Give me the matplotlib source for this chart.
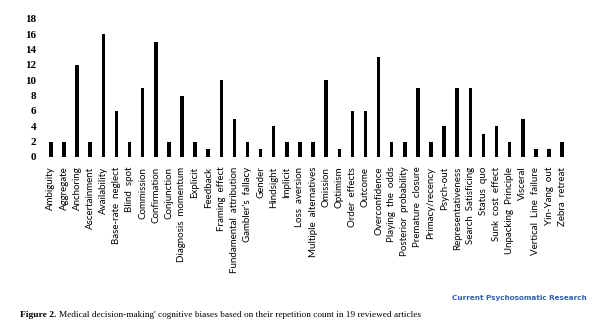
import matplotlib
matplotlib.use("Agg")
import matplotlib.pyplot as plt

# Cognitive biases and how many of the 19 reviewed articles mention each
biases = [
    "Ambiguity", "Aggregate", "Anchoring", "Ascertainment", "Availability",
    "Base-rate  neglect", "Blind  spot", "Commission", "Confirmation", "Conjunction",
    "Diagnosis  momentum", "Explicit", "Feedback", "Framing  effect",
    "Fundamental  attribution", "Gambler\u2019s  fallacy", "Gender", "Hindsight",
    "Implicit", "Loss  aversion", "Multiple  alternatives", "Omission", "Optimism",
    "Order  effects", "Outcome", "Overconfidence", "Playing  the  odds",
    "Posterior  probability", "Premature  closure", "Primacy/recency", "Psych-out",
    "Representativeness", "Search  Satisficing", "Status  quo", "Sunk  cost  effect",
    "Unpacking  Principle", "Visceral", "Vertical  Line  failure", "Yin-Yang  out",
    "Zebra  retreat",
]
counts = [2, 2, 12, 2, 16, 6, 2, 9, 15, 2,
          8, 2, 1, 10, 5, 2, 1, 4, 2, 2,
          2, 10, 1, 6, 6, 13, 2, 2, 9, 2,
          4, 9, 9, 3, 4, 2, 5, 1, 1, 2]
yticks = list(range(0, 19, 2))

W, H = 602, 329
fig = plt.figure(figsize=(W / 100, H / 100), dpi=100)

# axes placed in pixel terms: x from 43 to 570, y from 19 (top) to 157 (zero)
left, right, top, bottom = 43, 570, 19, 157
ax = fig.add_axes([left / W, 1 - bottom / H, (right - left) / W, (bottom - top) / H])

x = range(len(biases))
ax.bar(x, counts, width=0.27, color="black")
ax.set_xlim(-0.6, len(biases) - 0.4)
ax.set_ylim(0, 18)
ax.set_yticks(yticks)
ax.set_yticklabels([str(t) for t in yticks], fontfamily="Liberation Serif",
                   fontweight="bold", fontsize=8)
ax.set_xticks(list(x))
ax.set_xticklabels(biases, rotation=90, fontfamily="Lato", fontsize=7)
ax.tick_params(axis="both", length=0)
ax.tick_params(axis="y", pad=5)
ax.tick_params(axis="x", pad=7)
for s in ax.spines.values():
    s.set_visible(False)

fig.text(587 / W, 1 - 298 / H, "Current Psychosomatic Research", ha="right", va="center",
         fontfamily="DejaVu Sans", fontweight="bold", fontsize=5.2, color="#2f5fb3")

# caption: bold figure number followed by the plain description
cap_y = 1 - 317 / H
lead = fig.text(20 / W, cap_y, "Figure 2.", ha="left", va="baseline",
                fontfamily="Liberation Serif", fontweight="bold", fontsize=6.8)
fig.canvas.draw()
bb = lead.get_window_extent()
fig.text((bb.x1 + 2.5) / W, cap_y,
         "Medical decision-making' cognitive biases based on their "
         "repetition count in 19 reviewed articles",
         ha="left", va="baseline", fontfamily="Liberation Serif", fontsize=6.7)

fig.savefig("out.png", dpi=100)
